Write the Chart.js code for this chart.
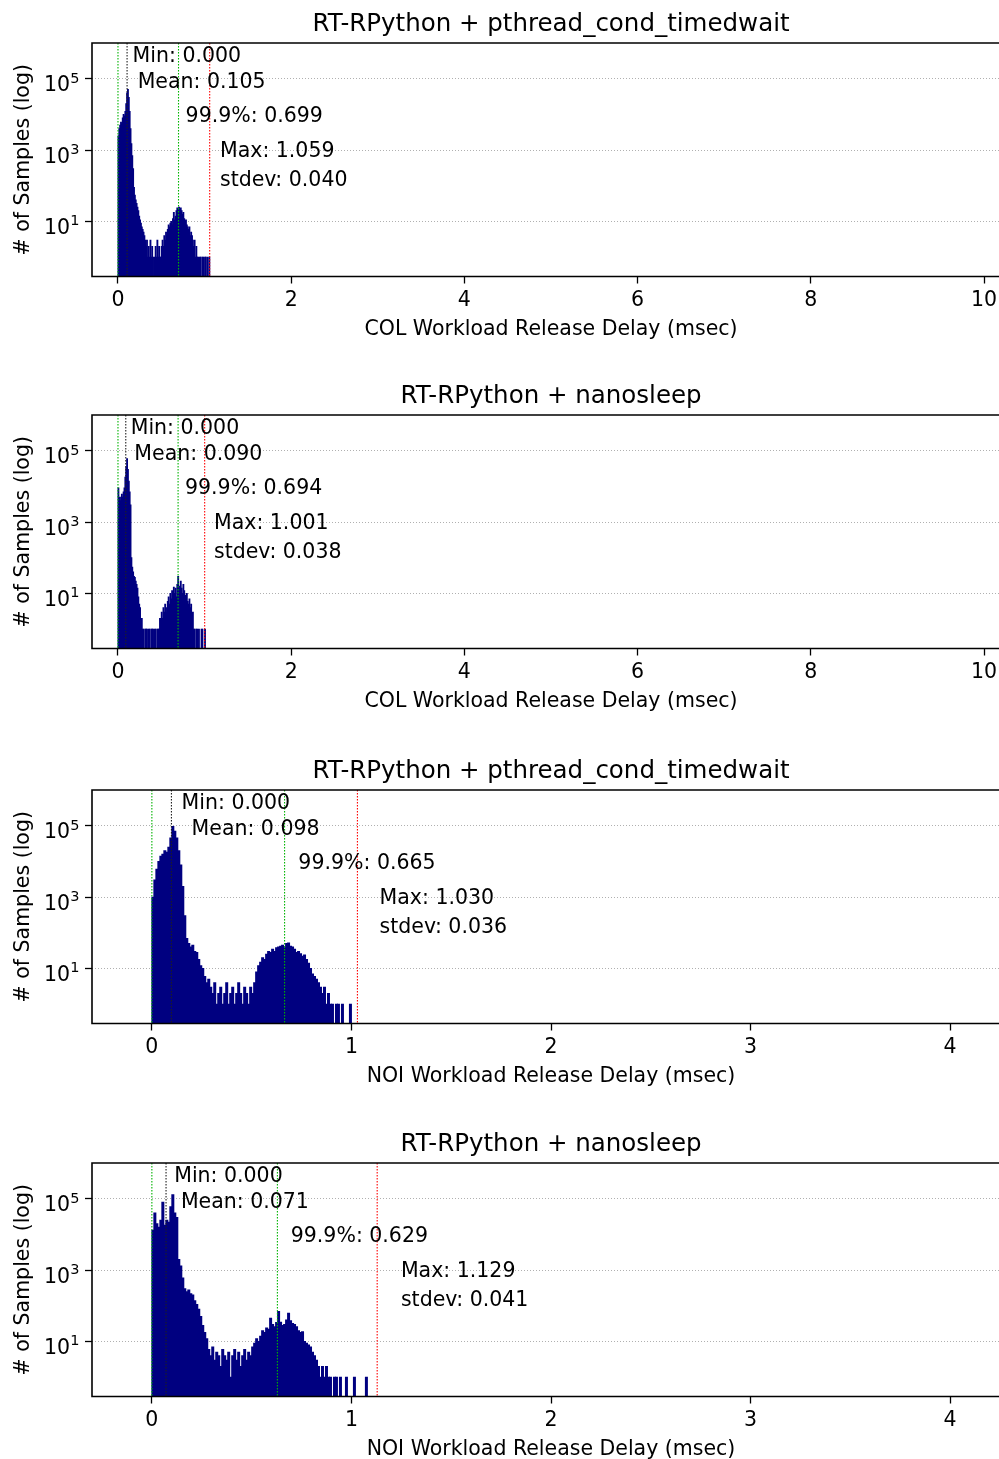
<!DOCTYPE html>
<html>
<head>
<meta charset="utf-8">
<script src="https://cdn.jsdelivr.net/npm/chart.js"></script>
<style>
  html, body { margin: 0; padding: 0; background: #fff; overflow: hidden; }
  #wrap { position: relative; width: 999px; height: 1459px; overflow: hidden; }
  canvas { position: absolute; left: 0; }
</style>
</head>
<body>
<div id="wrap">
  <canvas id="c1" width="1010" height="374" style="top:0px"></canvas>
  <canvas id="c2" width="1010" height="374" style="top:372px"></canvas>
  <canvas id="c3" width="1010" height="374" style="top:747px"></canvas>
  <canvas id="c4" width="1010" height="374" style="top:1120px"></canvas>
</div>
<script>
// histogram counts, bins of 0.01 msec starting at 0
var binWidth = 0.01;

var colPthread = [
  2500, 4000, 5000, 6000, 5500, 8000, 10000, 9000, 12000, 20000,
  40000, 50000, 30000, 12000, 4000, 1500, 700, 300, 90, 55,
  40, 32, 25, 20, 14, 11, 9, 7, 6, 5,
  4, 3, 2, 3, 1, 2, 1, 3, 1, 2,
  1, 0, 1, 2, 1, 3, 1, 2, 1, 1,
  2, 3, 2, 4, 3, 5, 4, 6, 8, 7,
  9, 10, 8, 12, 18, 11, 14, 20, 24, 22,
  25, 19, 24, 20, 16, 18, 12, 10, 11, 8,
  7, 6, 7, 4, 5, 4, 3, 2, 3, 1,
  2, 1, 1, 0, 1, 1, 0, 1, 1, 0,
  1, 1, 0, 1, 0, 1
];

var colNano = [
  9000, 5000, 4000, 5000, 6000, 5000, 7000, 9000, 18000, 35000,
  60000, 30000, 14000, 7000, 3000, 100, 55, 40, 30, 28,
  22, 18, 14, 8, 5, 4, 1, 2, 1, 1,
  0, 1, 1, 1, 0, 1, 1, 0, 1, 1,
  1, 0, 1, 1, 0, 1, 1, 1, 2, 2,
  3, 2, 4, 3, 5, 4, 3, 6, 8, 5,
  10, 7, 12, 9, 15, 10, 14, 8, 18, 30,
  16, 12, 22, 14, 10, 18, 12, 9, 7, 10,
  6, 5, 7, 4, 5, 2, 3, 1, 1, 0,
  1, 1, 0, 1, 0, 0, 1, 1, 0, 0,
  1
];

var noiPthread = [
  1000, 3000, 6000, 10000, 14000, 16000, 20000, 18000, 25000, 45000,
  95000, 70000, 45000, 20000, 8000, 2000, 300, 70, 50, 40,
  45, 30, 28, 18, 12, 10, 6, 4, 5, 3,
  2, 4, 1, 2, 3, 1, 2, 4, 1, 2,
  3, 1, 2, 4, 2, 1, 3, 2, 1, 3,
  2, 4, 8, 12, 15, 20, 18, 25, 30, 28,
  35, 30, 38, 40, 42, 45, 38, 50, 52, 42,
  40, 35, 28, 30, 26, 22, 24, 18, 14, 10,
  7, 6, 5, 4, 3, 2, 3, 1, 2, 1,
  1, 0, 1, 1, 0, 1, 0, 0, 0, 1
];

var noiNano = [
  13000, 40000, 20000, 16000, 25000, 80000, 18000, 25000, 22000, 60000,
  130000, 40000, 30000, 2000, 1300, 600, 300, 250, 280, 220,
  200, 140, 110, 80, 50, 28, 18, 12, 6, 4,
  7, 3, 5, 4, 2, 6, 4, 3, 5, 1,
  4, 6, 3, 5, 2, 4, 6, 3, 5, 4,
  7, 9, 12, 10, 14, 20, 18, 24, 22, 45,
  30, 26, 34, 70, 35, 28, 30, 40, 62, 38,
  32, 30, 26, 20, 18, 19, 10, 9, 8, 7,
  5, 4, 3, 2, 1, 2, 1, 2, 1, 1,
  0, 1, 1, 0, 1, 0, 0, 1, 0, 0,
  0, 1, 0, 0, 0, 0, 0, 1
];

var titles = [
  "RT-RPython + pthread_cond_timedwait",
  "RT-RPython + nanosleep",
  "RT-RPython + pthread_cond_timedwait",
  "RT-RPython + nanosleep"
];
var xTitles = [
  "COL Workload Release Delay (msec)",
  "COL Workload Release Delay (msec)",
  "NOI Workload Release Delay (msec)",
  "NOI Workload Release Delay (msec)"
];
var colTicks = [0, 2, 4, 6, 8, 10];
var noiTicks = [0, 1, 2, 3, 4];
var yTicks = [10, 1000, 100000];

var statMin = [0.000, 0.000, 0.000, 0.000];
var statMean = [0.105, 0.090, 0.098, 0.071];
var statP999 = [0.699, 0.694, 0.665, 0.629];
var statMax = [1.059, 1.001, 1.030, 1.129];
var statStdev = [0.040, 0.038, 0.036, 0.041];

// where the text notes sit (x in msec, y in px below the top of the plot)
var noteX = [
  [0.169, 0.227, 0.781, 1.178],
  [0.147, 0.189, 0.774, 1.109],
  [0.149, 0.199, 0.734, 1.141],
  [0.112, 0.1455, 0.696, 1.248]
];
var noteY = [18.7, 45.3, 78.7, 114.3, 142.7];

Chart.defaults.font.family = "'DejaVu Sans', sans-serif";
Chart.defaults.color = "#000";

function overlay(i) {
  return {
    id: "overlay" + i,
    afterDatasetsDraw: function(chart) {
      var ctx = chart.ctx, a = chart.chartArea, x = chart.scales.x, y = chart.scales.y;
      var lines = [
        [statMin[i], "#00b400"],
        [statMean[i], "#202020"],
        [statP999[i], "#00b400"],
        [statMax[i], "#ff0000"]
      ];
      ctx.save();
      ctx.lineWidth = 1.1;
      ctx.setLineDash([1.5, 1.5]);
      lines.forEach(function(l) {
        var px = x.getPixelForValue(l[0]);
        ctx.strokeStyle = l[1];
        ctx.beginPath();
        ctx.moveTo(px, a.top);
        ctx.lineTo(px, a.bottom);
        ctx.stroke();
      });
      ctx.setLineDash([]);

      ctx.fillStyle = "#000";
      ctx.font = "20.5px 'DejaVu Sans'";
      ctx.textBaseline = "alphabetic";
      ctx.textAlign = "left";
      var notes = [
        ["Min: " + statMin[i].toFixed(3), noteX[i][0], noteY[0]],
        ["Mean: " + statMean[i].toFixed(3), noteX[i][1], noteY[1]],
        ["99.9%: " + statP999[i].toFixed(3), noteX[i][2], noteY[2]],
        ["Max: " + statMax[i].toFixed(3), noteX[i][3], noteY[3]],
        ["stdev: " + statStdev[i].toFixed(3), noteX[i][3], noteY[4]]
      ];
      notes.forEach(function(n) {
        ctx.fillText(n[0], x.getPixelForValue(n[1]), a.top + n[2]);
      });

      // log tick labels as 10 with a raised exponent
      yTicks.forEach(function(v) {
        var py = y.getPixelForValue(v);
        ctx.font = "20.5px 'DejaVu Sans'";
        ctx.textAlign = "right";
        ctx.fillText("10", 70, py + 12.5);
        ctx.font = "14.5px 'DejaVu Sans'";
        ctx.textAlign = "left";
        ctx.fillText(String(Math.round(Math.log10(v))), 70.3, py + 3.8);
      });

      // axes frame (right side is off the picture)
      ctx.strokeStyle = "#000";
      ctx.lineWidth = 1.6;
      ctx.beginPath();
      ctx.moveTo(a.right + 5, a.top);
      ctx.lineTo(a.left, a.top);
      ctx.lineTo(a.left, a.bottom);
      ctx.lineTo(a.right + 5, a.bottom);
      ctx.stroke();
      ctx.restore();
    }
  };
}

function makeChart(i, id, counts, xMax, xTicks) {
  new Chart(id, {
    type: "bar",
    data: {
      datasets: [{
        data: counts.map(function(c, k) {
          return {x: (k + 0.5) * binWidth, y: c > 0 ? c : null};
        }),
        backgroundColor: "navy",
        borderWidth: 0,
        inflateAmount: 0.5,
        barPercentage: 1,
        categoryPercentage: 1
      }]
    },
    options: {
      responsive: false,
      animation: false,
      events: [],
      layout: {padding: 0},
      plugins: {
        legend: {display: false},
        tooltip: {enabled: false},
        title: {
          display: true,
          text: titles[i],
          fullSize: false,
          font: {size: 24.5, weight: "normal"},
          padding: {top: 9.5, bottom: 4.1}
        }
      },
      scales: {
        x: {
          type: "linear",
          min: -0.3,
          max: xMax,
          offset: false,
          afterBuildTicks: function(s) { s.ticks = xTicks.map(function(v) { return {value: v}; }); },
          afterFit: function(s) { s.height = 97.5; },
          grid: {offset: false, drawOnChartArea: false, tickColor: "#000", tickLength: 7, tickWidth: 1.3},
          border: {display: false},
          ticks: {font: {size: 20.5}, padding: 5, maxRotation: 0, autoSkip: false},
          title: {display: true, text: xTitles[i], font: {size: 20.5}, padding: {top: 0, bottom: 32}}
        },
        y: {
          type: "logarithmic",
          min: 0.29,
          max: 1000000,
          afterBuildTicks: function(s) { s.ticks = yTicks.map(function(v) { return {value: v}; }); },
          afterFit: function(s) { s.width = 92; },
          grid: {color: "#b0b0b0", lineWidth: 1, tickColor: "#000", tickLength: 7, tickWidth: 1.3, tickBorderDash: []},
          border: {display: false, dash: [1, 2]},
          ticks: {display: false},
          title: {display: true, text: "# of Samples (log)", font: {size: 20.5}, padding: {top: 11, bottom: 0}}
        }
      }
    },
    plugins: [overlay(i)]
  });
}

makeChart(0, "c1", colPthread, 10.3, colTicks);
makeChart(1, "c2", colNano, 10.3, colTicks);
makeChart(2, "c3", noiPthread, 4.3, noiTicks);
makeChart(3, "c4", noiNano, 4.3, noiTicks);
</script>
</body>
</html>
